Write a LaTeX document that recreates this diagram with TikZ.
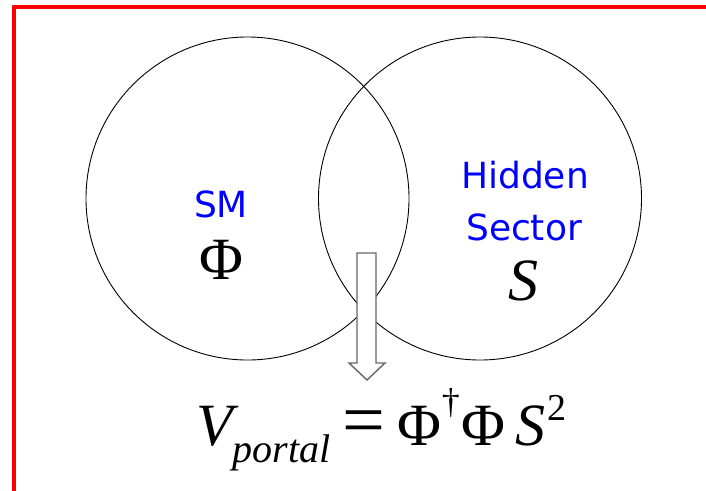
\documentclass[tikz,border=0pt]{standalone}
\usepackage{fontspec}
\setmainfont{Liberation Serif}
\newfontfamily\labelfont{DejaVu Sans}
\usetikzlibrary{positioning}
\definecolor{labelblue}{RGB}{0,0,255}
\definecolor{framered}{RGB}{255,0,0}

\begin{document}
\begin{tikzpicture}[x=1pt, y=-1pt,
  sector/.style={circle, draw=black, line width=0.9pt, inner sep=0pt, minimum size=323pt},
  sectorlabel/.style={font=\labelfont\fontsize{36}{40}\selectfont, text=labelblue, align=center, inner sep=0pt},
  field/.style={font=\fontsize{60}{60}\selectfont, inner sep=0pt},
  blockarrow/.style={draw=black!60, line width=1.4pt, fill=white, line join=miter}
]
  \useasboundingbox (0,0) rectangle (706,490);
  \draw[framered, line width=3.5pt] (14,495) -- (14,7) -- (711,7);

  \node[sector] (smcircle) at (247.5,198.5) {};
  \node[sector] (hiddencircle) at (480,198.5) {};

  \node[sectorlabel, anchor=base] (smlabel) at (221,217) {SM};
  \node[field, anchor=base] (phi) at (221,279) {Φ};
  \node[sectorlabel, anchor=base] (hiddenlabel) at (525,188) {Hidden};
  \node[sectorlabel, anchor=base] (sectorlabel) at (524,240) {Sector};
  \node[field, anchor=base] (singlet) at (523,300) {\itshape S};

  % portal arrow
  \draw[blockarrow] (357,253) -- (376,253) -- (376,363) -- (385,363) -- (367,380)
    -- (349,363) -- (357,363) -- cycle;

  \node[field, anchor=base west] (portal) at (196,445)
    {\itshape V\raisebox{-17pt}{\fontsize{40}{40}\selectfont portal}\upshape\hspace{12pt}%
     {\fontsize{76}{76}\selectfont =}\hspace{12pt}%
     Φ\hspace{0.5pt}\raisebox{32pt}{\fontsize{36}{36}\selectfont †}\hspace{2pt}%
     Φ\hspace{10pt}{\itshape S}\hspace{2pt}\raisebox{25pt}{\fontsize{38}{38}\selectfont 2}};
\end{tikzpicture}
\end{document}
